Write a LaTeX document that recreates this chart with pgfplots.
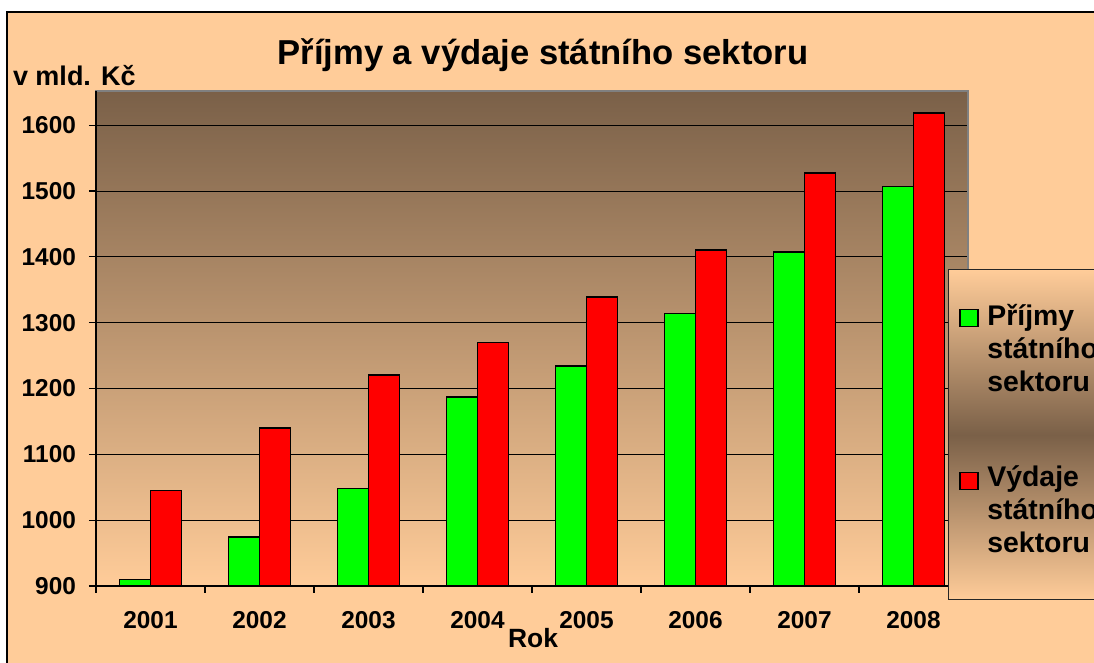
\documentclass[border=0pt]{standalone}
\usepackage{pgfplots}
\pgfplotsset{compat=1.18}
\usepackage{fontspec}
\setmainfont{Liberation Sans}
\definecolor{peach}{HTML}{FFCC99}
\definecolor{brownd}{HTML}{7A6048}
\definecolor{grn}{HTML}{00FF00}
\definecolor{rd}{HTML}{FF0000}
\begin{document}
\begin{tikzpicture}[x=1pt,y=1pt]
\useasboundingbox (0,0) rectangle (547,331.5);
\fill[white] (0,0) rectangle (547,331.5);
\filldraw[fill=peach, draw=black, line width=0.8pt] (3.5,-10) rectangle (560,325.5);
\begin{axis}[
  at={(48pt,38.5pt)}, anchor=south west,
  scale only axis, width=436pt, height=247.5pt,
  ybar=0pt, bar width=15.5pt,
  xmin=-0.5, xmax=7.5, ymin=900, ymax=1652,
  xtick={0,1,2,3,4,5,6,7},
  xticklabels={2001,2002,2003,2004,2005,2006,2007,2008},
  minor xtick={-0.5,0.5,1.5,2.5,3.5,4.5,5.5,6.5,7.5},
  ytick={900,1000,1100,1200,1300,1400,1500,1600},
  ymajorgrids, major grid style={black, line width=0.5pt},
  tick align=outside, major tick length=3.5pt, minor tick length=3.5pt,
  xtick pos=bottom, ytick pos=left,
  major x tick style={draw=none},
  every tick/.style={black, line width=0.6pt},
  minor x tick style={black, line width=0.6pt},
  /pgf/number format/assume math mode=true,
  /pgf/number format/1000 sep={},
  ticklabel style={font=\bfseries\fontsize{12.2}{14}\selectfont},
  xticklabel style={anchor=base, yshift=-18pt},
  yticklabel style={anchor=east, xshift=-3pt},
  axis background/.style={top color=brownd, bottom color=peach},
  axis line style={draw=gray, line width=0.7pt},
  after end axis/.code={\draw[black, line width=0.7pt] (rel axis cs:0,1) -- (rel axis cs:0,0) -- (rel axis cs:1,0);},
]
\addplot[fill=grn, draw=black, line width=0.9pt] coordinates {(0,910) (1,974) (2,1048) (3,1187) (4,1234) (5,1314) (6,1407) (7,1507)};
\addplot[fill=rd, draw=black, line width=0.9pt] coordinates {(0,1045) (1,1140) (2,1220) (3,1270) (4,1339) (5,1410) (6,1528) (7,1619)};
\end{axis}
% legend
\shade[top color=peach, bottom color=peach, middle color=brownd] (474,31.5) rectangle (560,196.5);
\draw[black!85, line width=0.5pt] (474,31.5) rectangle (560,196.5);
\filldraw[fill=grn, draw=black, line width=0.6pt] (480,168.2) rectangle (489,176.8);
\filldraw[fill=rd, draw=black, line width=0.6pt] (480,86.7) rectangle (489,95.3);
\begin{scope}[every node/.style={anchor=base west, inner sep=0pt, font=\bfseries\fontsize{14.2}{16.5}\selectfont}]
\node at (493.5,168.5) {Příjmy};
\node at (493.5,152) {státního};
\node at (493.5,135.5) {sektoru};
\node at (493.5,88) {Výdaje};
\node at (493.5,71.5) {státního};
\node at (493.5,55) {sektoru};
\end{scope}
\node[anchor=base, font=\bfseries\fontsize{17.3}{20}\selectfont] at (271.5,299) {Příjmy a výdaje státního sektoru};
\node[anchor=base west, inner sep=0pt, font=\bfseries\fontsize{13.5}{16}\selectfont] at (6.3,288.5) {v mld. Kč};
\node[anchor=base, inner sep=0pt, font=\bfseries\fontsize{13.2}{16}\selectfont] at (266.5,7.5) {Rok};
\end{tikzpicture}
\end{document}
